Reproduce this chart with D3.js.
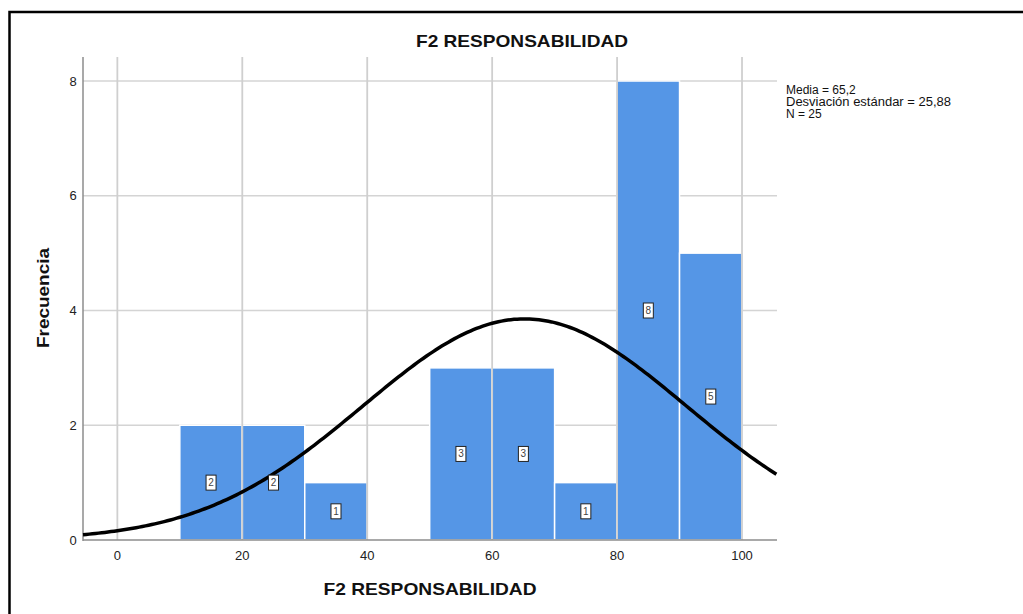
<!DOCTYPE html>
<html><head><meta charset="utf-8">
<script src="https://cdn.jsdelivr.net/npm/d3@7"></script>
<style>body{margin:0;background:#fff}svg{display:block}text{font-family:"Liberation Sans",Arial,sans-serif}</style>
</head><body><svg id="c" width="1023" height="614"></svg>
<script>
const binStarts = [10, 20, 30, 40, 50, 60, 70, 80, 90];
const binCounts = [2, 2, 1, 0, 3, 3, 1, 8, 5];
const binWidth = 10;
const xTicks = [0, 20, 40, 60, 80, 100];
const yTicks = [0, 2, 4, 6, 8];
const mean = 65.2, sd = 25.88, n = 25;
const statLines = ["Media = 65,2", "Desviación estándar = 25,88", "N = 25"];
const title = "F2 RESPONSABILIDAD", xTitle = "F2 RESPONSABILIDAD", yTitle = "Frecuencia";

const svg = d3.select("#c");
const L = 83, R = 777, T = 57, B = 540;
const x = d3.scaleLinear().domain([-5.5, 105.6]).range([L, R]);
const y = d3.scaleLinear().domain([0, 8]).range([B, 81]);

// frame
svg.append("path").attr("d", `M9.5,620 L9.5,12 L1030,12`).attr("fill","none").attr("stroke","#000").attr("stroke-width",2.5);

// horizontal grid
svg.append("g").selectAll("line").data(yTicks.slice(1)).join("line")
  .attr("x1", L).attr("x2", R).attr("y1", d => y(d)).attr("y2", d => y(d))
  .attr("stroke", "#d4d4d4").attr("stroke-width", 1.5);

// bars
const bars = binStarts.map((s, i) => ({s, c: binCounts[i]})).filter(d => d.c > 0);
svg.append("g").selectAll("rect").data(bars).join("rect")
  .attr("x", d => x(d.s)).attr("width", d => x(d.s + binWidth) - x(d.s))
  .attr("y", d => y(d.c)).attr("height", d => y(0) - y(d.c))
  .attr("fill", "#5596e6").attr("stroke", "#fff").attr("stroke-width", 1.5);

// vertical grid
svg.append("g").selectAll("line").data(xTicks).join("line")
  .attr("x1", d => x(d)).attr("x2", d => x(d)).attr("y1", T).attr("y2", B)
  .attr("stroke", "#cfcfcf").attr("stroke-width", 1.8);

// axes
svg.append("line").attr("x1", L).attr("x2", L).attr("y1", T).attr("y2", B + 1).attr("stroke", "#8c8c8c").attr("stroke-width", 1.5);
svg.append("line").attr("x1", L).attr("x2", R).attr("y1", B).attr("y2", B).attr("stroke", "#8c8c8c").attr("stroke-width", 1.5);

// tick labels
svg.append("g").selectAll("text").data(yTicks).join("text")
  .attr("x", 73).attr("y", d => y(d) + 4.5).attr("text-anchor", "middle")
  .attr("font-size", 13).attr("fill", "#222").text(d => d);
svg.append("g").selectAll("text").data(xTicks).join("text")
  .attr("x", d => x(d)).attr("y", 560).attr("text-anchor", "middle")
  .attr("font-size", 13).attr("fill", "#222").text(d => d);

// normal curve
const pdf = v => n * binWidth / (sd * Math.sqrt(2 * Math.PI)) * Math.exp(-0.5 * ((v - mean) / sd) ** 2);
const pts = d3.range(-5.5, 105.61, 0.5).map(v => [x(v), y(pdf(v))]);
svg.append("path").attr("d", d3.line()(pts)).attr("fill", "none").attr("stroke", "#000").attr("stroke-width", 3.5);

// bar labels
const lab = svg.append("g").selectAll("g").data(bars).join("g")
  .attr("transform", d => `translate(${x(d.s + binWidth / 2)},${y(d.c / 2)})`);
lab.append("rect").attr("x", -5).attr("y", -7.5).attr("width", 10).attr("height", 15)
  .attr("fill", "#fff").attr("stroke", "#222").attr("stroke-width", 1);
lab.append("text").attr("text-anchor", "middle").attr("y", 3.5).attr("font-size", 10).attr("fill", "#444").text(d => d.c);

// titles
svg.append("text").attr("x", 522).attr("y", 47).attr("text-anchor", "middle")
  .attr("font-size", 17).attr("font-weight", "bold").attr("fill", "#111")
  .attr("textLength", 212).attr("lengthAdjust", "spacingAndGlyphs").text(title);
svg.append("text").attr("x", 430).attr("y", 595).attr("text-anchor", "middle")
  .attr("font-size", 17).attr("font-weight", "bold").attr("fill", "#111")
  .attr("textLength", 213).attr("lengthAdjust", "spacingAndGlyphs").text(xTitle);
svg.append("text").attr("transform", "translate(49,298) rotate(-90)").attr("text-anchor", "middle")
  .attr("font-size", 17).attr("font-weight", "bold").attr("fill", "#111")
  .attr("textLength", 100).attr("lengthAdjust", "spacingAndGlyphs").text(yTitle);

// stats
svg.append("g").selectAll("text").data(statLines).join("text")
  .attr("x", 786).attr("y", (d, i) => 94 + i * 12).attr("font-size", 12).attr("fill", "#111")
  .attr("textLength", (d, i) => i === 1 ? 165 : null).attr("lengthAdjust", "spacingAndGlyphs").text(d => d);
</script></body></html>
